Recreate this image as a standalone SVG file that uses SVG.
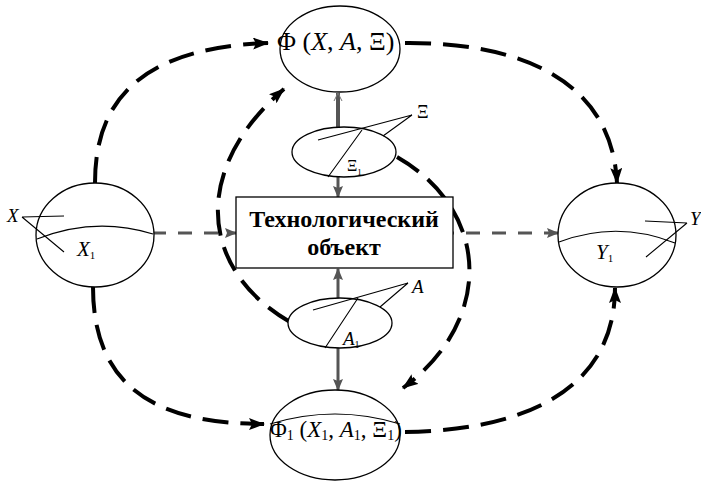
<svg xmlns="http://www.w3.org/2000/svg" width="701" height="481" viewBox="0 0 701 481">
  <defs>
    <marker id="arrowBlack" markerUnits="userSpaceOnUse" markerWidth="16" markerHeight="12" refX="15" refY="6" orient="auto">
      <path d="M0,0 L16,6 L0,12 L3,6 z" fill="#000"/>
    </marker>
    <marker id="arrowGrey" markerUnits="userSpaceOnUse" markerWidth="12" markerHeight="10" refX="11" refY="5" orient="auto">
      <path d="M0,0 L12,5 L0,10 L2,5 z" fill="#555"/>
    </marker>
    <marker id="arrowGreyThin" markerUnits="userSpaceOnUse" markerWidth="10" markerHeight="10" refX="9" refY="5" orient="auto">
      <path d="M1,1 L9,5 L1,9" fill="none" stroke="#777" stroke-width="1"/>
    </marker>
  </defs>
  <style>
    .shape { fill: #fff; stroke: #000; stroke-width: 1.3; }
    .thin { fill: none; stroke: #000; stroke-width: 1.1; }
    .flow { fill: none; stroke: #000; stroke-width: 4; stroke-dasharray: 26 12; marker-end: url(#arrowBlack); }
    .link { fill: none; stroke: #555; stroke-width: 3; marker-end: url(#arrowGrey); }
    .linkUp { fill: none; stroke: #555; stroke-width: 4; marker-end: url(#arrowGreyThin); }
    .linkDash { fill: none; stroke: #555; stroke-width: 3; stroke-dasharray: 14 12; marker-end: url(#arrowGrey); }
    text { font-family: "Liberation Serif", "Times New Roman", serif; fill: #000; }
    .it { font-style: italic; }
    .title { font-weight: bold; font-size: 24px; }
  </style>

  <rect width="701" height="481" fill="#fff"/>

  <!-- connectors -->
  <g id="connectors">
    <!-- X -> Phi -->
    <path class="flow" d="M95,183 C95,110 130,48 268,43"/>
    <!-- Phi -> Y -->
    <path class="flow" d="M405,43 C520,42 612,80 617,183"/>
    <!-- X -> Phi1 -->
    <path class="flow" d="M93,287 C93,390 160,424 264,424"/>
    <!-- Phi1 -> Y -->
    <path class="flow" d="M405,432 C540,430 615,380 615,288"/>
    <!-- A -> Phi -->
    <path class="flow" d="M290,322 C200,270 190,170 284,89"/>
    <!-- Xi -> Phi1 -->
    <path class="flow" d="M397,157 C490,210 495,320 403,388"/>

    <!-- X -> object -->
    <path class="linkDash" d="M152,233 L236,233"/>
    <!-- object -> Y -->
    <path class="linkDash" d="M440,233 L558,233"/>
    <!-- Xi -> object -->
    <path class="link" d="M338,177 L338,197"/>
    <!-- Xi -> Phi -->
    <path class="linkUp" d="M338,127 L338,93"/>
    <!-- A -> object -->
    <path class="link" d="M338,298 L338,269"/>
    <!-- A -> Phi1 -->
    <path class="link" d="M338,348 L338,390"/>
  </g>

  <!-- input sphere X -->
  <g id="nodeX">
    <ellipse class="shape" cx="95" cy="235" rx="59" ry="52"/>
    <path class="thin" d="M37,239 Q95,216 153,234"/>
    <path class="thin" d="M22,217 L64,216 M22,217 L64,252"/>
    <text class="it" x="7" y="222" font-size="19">X</text>
    <text x="77" y="256"><tspan class="it" font-size="21">X</tspan><tspan font-size="11" dy="3">1</tspan></text>
  </g>

  <!-- output sphere Y -->
  <g id="nodeY">
    <ellipse class="shape" cx="617" cy="235" rx="59" ry="52"/>
    <path class="thin" d="M559,242 Q617,220 675,243"/>
    <path class="thin" d="M687,223 L645,221 M687,223 L646,257"/>
    <text class="it" x="690" y="225" font-size="19">Y</text>
    <text x="596" y="259"><tspan class="it" font-size="21">Y</tspan><tspan font-size="11" dy="3">1</tspan></text>
  </g>

  <!-- model Phi -->
  <g id="nodePhi">
    <ellipse class="shape" cx="340" cy="49" rx="60" ry="43"/>
    <text x="277" y="50" font-size="26">Φ (<tspan class="it">X</tspan>, <tspan class="it">A</tspan>, Ξ)</text>
  </g>

  <!-- disturbances Xi -->
  <g id="nodeXi">
    <ellipse class="shape" cx="344" cy="152" rx="52" ry="25"/>
    <path class="thin" d="M412,115 L318,140 M412,115 L383,136 M362,130 L328,177"/>
    <text x="417" y="118" font-size="18">Ξ</text>
    <text x="347" y="171"><tspan font-size="16">Ξ</tspan><tspan font-size="9" dy="4">1</tspan></text>
  </g>

  <!-- technological object -->
  <g id="nodeObject">
    <rect class="shape" x="236" y="197" width="217" height="71"/>
    <text class="title" x="344" y="227" text-anchor="middle">Технологический</text>
    <text class="title" x="344" y="255" text-anchor="middle">объект</text>
  </g>

  <!-- control actions A -->
  <g id="nodeA">
    <ellipse class="shape" cx="340" cy="323" rx="52" ry="25"/>
    <path class="thin" d="M408,283 L313,310 M408,283 L380,307 M358,298 L325,348"/>
    <text class="it" x="412" y="293" font-size="19">A</text>
    <text x="343" y="345"><tspan class="it" font-size="19">A</tspan><tspan font-size="10" dy="3">1</tspan></text>
  </g>

  <!-- model Phi1 -->
  <g id="nodePhi1">
    <ellipse class="shape" cx="335" cy="435" rx="65" ry="45"/>
    <path class="thin" d="M270,424 Q335,404 400,424"/>
    <text x="270" y="437" font-size="23">Φ<tspan font-size="14" dy="3">1</tspan><tspan dy="-3"> (</tspan><tspan class="it">X</tspan><tspan font-size="14" dy="3">1</tspan><tspan dy="-3">, </tspan><tspan class="it">A</tspan><tspan font-size="14" dy="3">1</tspan><tspan dy="-3">, Ξ</tspan><tspan font-size="14" dy="3">1</tspan><tspan dy="-3">)</tspan></text>
  </g>
</svg>
